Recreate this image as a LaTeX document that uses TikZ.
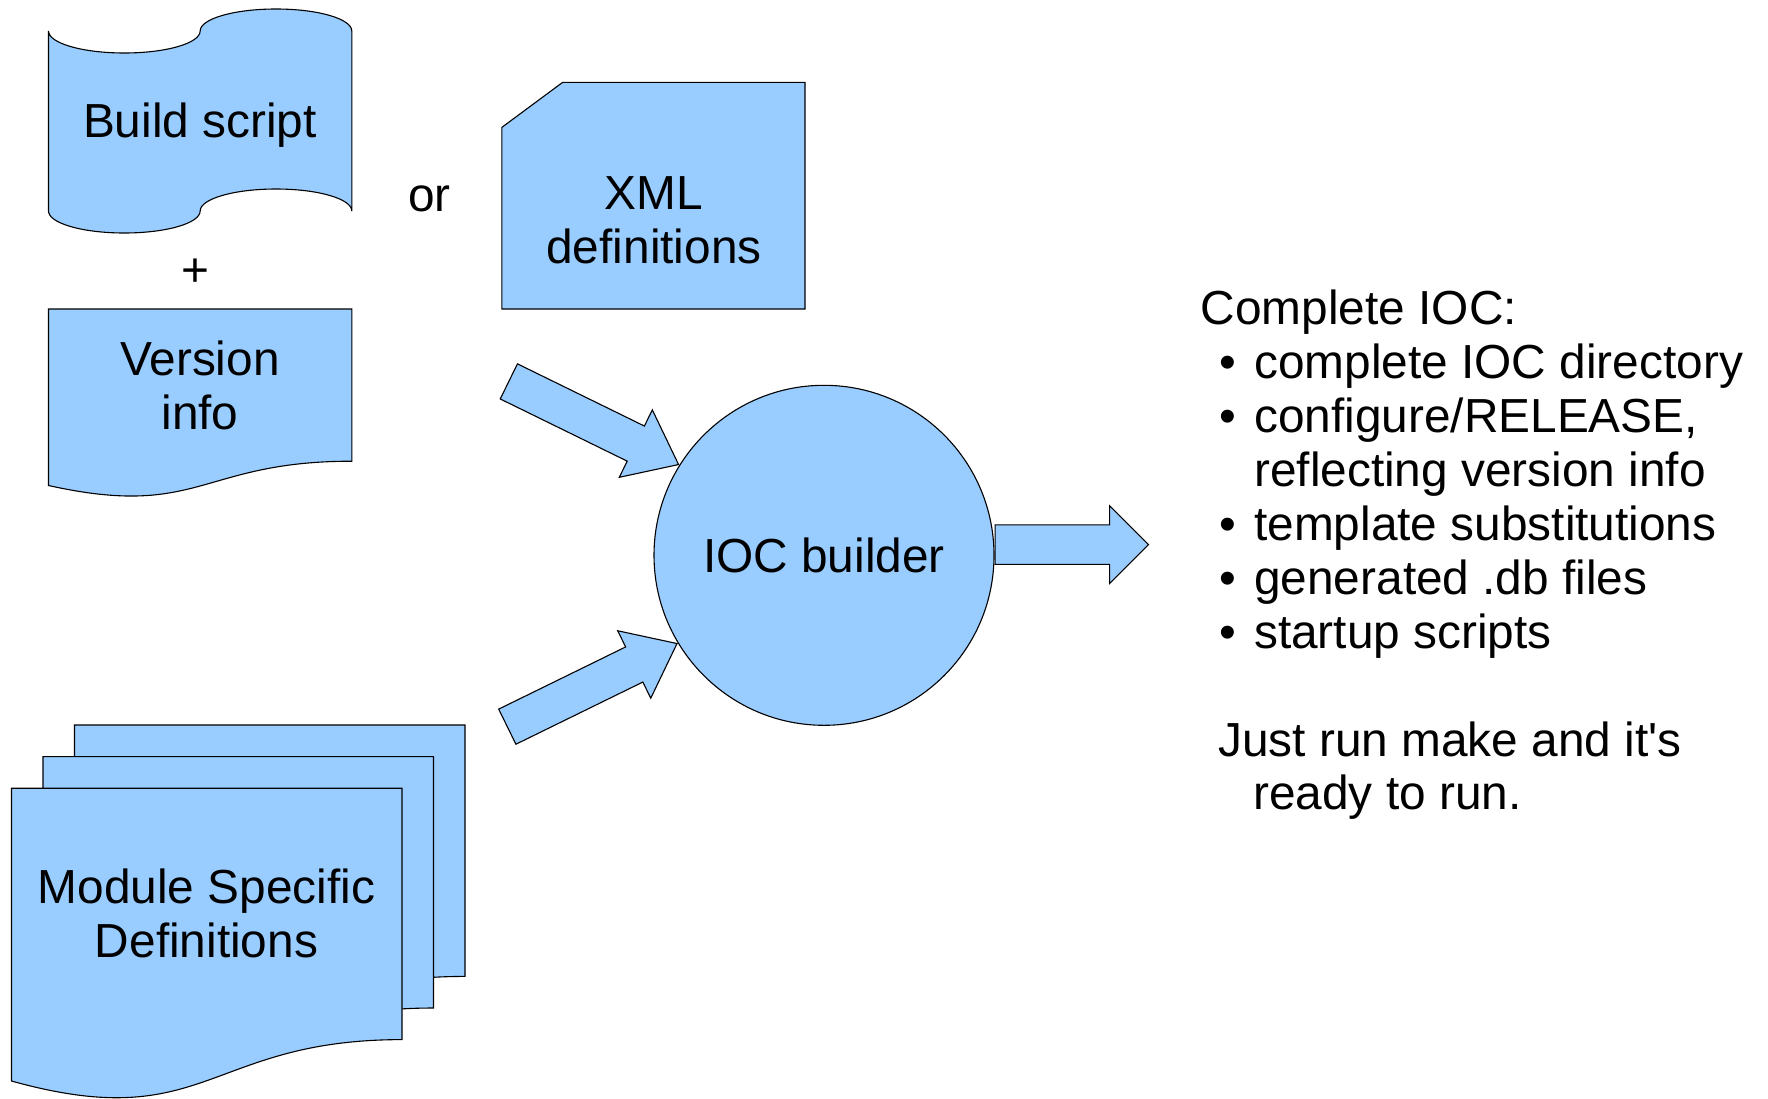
\documentclass[tikz,border=0pt]{standalone}
\usepackage{fontspec}
\setmainfont{Liberation Sans}[Ligatures=TeXOff]
\usetikzlibrary{shapes.arrows}
\definecolor{docblue}{HTML}{99CCFF}

\begin{document}
\begin{tikzpicture}[x=1pt, y=-1pt,
  docshape/.style={fill=docblue, draw=black, line width=1.1pt},
  txt/.style={font=\fontsize{47.8}{53.9}\selectfont, align=center, inner sep=0pt},
  item/.style={font=\fontsize{47.8}{53.9}\selectfont, anchor=base west, inner sep=0pt},
  bigarrow/.style={single arrow, fill=docblue, draw=black, line width=1.1pt, inner xsep=0pt}]
\useasboundingbox (0,0) rectangle (1768,1098);

% build script (punched tape)
\draw[docshape] (48.5,31) .. controls (48.5,43.2) and (82.4,53) .. (124.3,53)
  .. controls (166.2,53) and (200.15,43.2) .. (200.15,31)
  .. controls (200.15,18.8) and (234.1,9) .. (276,9)
  .. controls (317.9,9) and (351.8,18.8) .. (351.8,31) -- (351.8,211)
  .. controls (351.8,198.8) and (317.9,189) .. (276,189)
  .. controls (234.1,189) and (200.15,198.8) .. (200.15,211)
  .. controls (200.15,223.2) and (166.2,233) .. (124.3,233)
  .. controls (82.4,233) and (48.5,223.2) .. (48.5,211) -- cycle;
\node[txt] (build) at (200,125.3) {Build script};
\node[txt] (plus) at (195,273) {+};

% version info (document)
\draw[docshape] (48.5,309) -- (351.8,309) -- (351.8,461.2)
  .. controls (200.15,461.2) and (200.15,519.2) .. (48.5,485.5) -- cycle;
\node[txt] (version) at (200,385.7) {Version\\info};

\node[txt] (or) at (429.6,198.5) {or};

% xml definitions (card)
\draw[docshape] (501.8,127.4) -- (562.7,82.3) -- (805,82.3) -- (805,309) -- (501.8,309) -- cycle;
\node[txt] (xml) at (654,220) {XML\\definitions};

% module definitions (multi document)
\draw[docshape] (74.5,725) -- (465,725) -- (465,976.4)
  .. controls (269.75,976.4) and (269.75,1072.2) .. (74.5,1017.8) -- cycle;
\draw[docshape] (43,756.6) -- (433.5,756.6) -- (433.5,1008)
  .. controls (238.25,1008) and (238.25,1103.8) .. (43,1049.4) -- cycle;
\draw[docshape] (11.5,788.2) -- (402,788.2) -- (402,1039.6)
  .. controls (206.75,1039.6) and (206.75,1135.4) .. (11.5,1081) -- cycle;
\node[txt] (module) at (206.5,913.7) {Module Specific\\Definitions};

% builder
\node[docshape, circle, minimum size=340pt, txt] (builder) at (824,555.3) {IOC builder};
\node[bigarrow, inner ysep=19pt, minimum height=189pt, single arrow head extend=18pt,
  single arrow tip angle=76.5, rotate=-26.1, anchor=tip] (inA) at (builder.148.5) {};
\node[bigarrow, inner ysep=19pt, minimum height=189pt, single arrow head extend=18pt,
  single arrow tip angle=76.5, rotate=26.1, anchor=tip] (inB) at (builder.211.5) {};
\node[bigarrow, inner ysep=19.2pt, minimum height=153.4pt, single arrow head extend=19.2pt,
  single arrow tip angle=90, anchor=tail] (out) at ([yshift=10.7pt]builder.east) {};

% result
\node[item] (head) at (1200.6,324.8) {Complete IOC:};
\node[item] (b1) at (1219,378.7) {\textbullet};
\node[item] (i1) at (1254,378.7) {complete IOC directory};
\node[item] (b2) at (1219,432.6) {\textbullet};
\node[item] (i2) at (1254,432.6) {configure/RELEASE,};
\node[item] (i2b) at (1254,486.5) {reflecting version info};
\node[item] (b3) at (1219,540.4) {\textbullet};
\node[item] (i3) at (1254,540.4) {template substitutions};
\node[item] (b4) at (1219,594.3) {\textbullet};
\node[item] (i4) at (1254,594.3) {generated .db files};
\node[item] (b5) at (1219,648.2) {\textbullet};
\node[item] (i5) at (1254,648.2) {startup scripts};
\node[item] (just) at (1218,756) {Just run make and it's};
\node[item] (ready) at (1253,809.9) {ready to run.};
\end{tikzpicture}
\end{document}
